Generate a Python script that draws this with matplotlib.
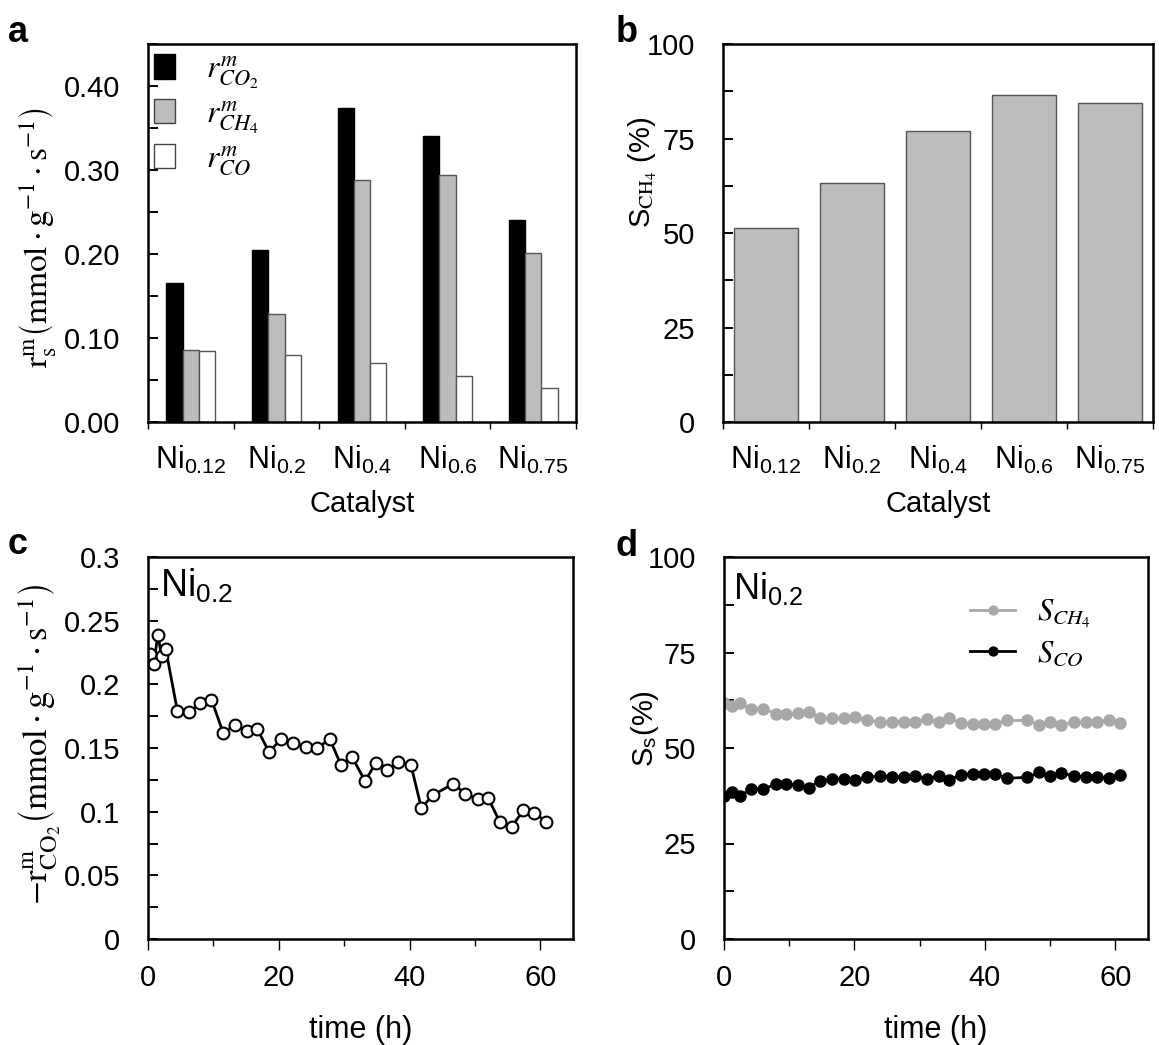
import matplotlib
matplotlib.use('Agg')
import matplotlib.pyplot as plt
from matplotlib.patches import Patch
from matplotlib.ticker import MultipleLocator, FixedLocator

plt.rcParams['font.family'] = ['Liberation Sans', 'DejaVu Sans']
plt.rcParams['mathtext.fontset'] = 'stix'

# panel a / b data
catalysts = [r'$\mathregular{Ni_{0.12}}$', r'$\mathregular{Ni_{0.2}}$', r'$\mathregular{Ni_{0.4}}$',
             r'$\mathregular{Ni_{0.6}}$', r'$\mathregular{Ni_{0.75}}$']
rate_co2 = [0.165, 0.205, 0.374, 0.340, 0.240]
rate_ch4 = [0.086, 0.129, 0.288, 0.294, 0.201]
rate_co = [0.084, 0.080, 0.070, 0.055, 0.041]
sel_ch4 = [51.2, 63.2, 76.9, 86.6, 84.4]

# panel c: CO2 consumption rate vs time on Ni0.2
time_c = [0.3, 0.9, 1.5, 2.1, 2.7, 4.5, 6.2, 8.0, 9.7, 11.5, 13.3, 15.1, 16.7, 18.5,
          20.4, 22.2, 24.1, 25.9, 27.8, 29.5, 31.2, 33.2, 34.8, 36.6, 38.3, 40.2,
          41.8, 43.6, 46.7, 48.5, 50.4, 52.0, 53.8, 55.6, 57.4, 59.1, 60.9]
rate_c = [0.224, 0.216, 0.239, 0.222, 0.228, 0.179, 0.178, 0.185, 0.188, 0.162,
          0.168, 0.163, 0.165, 0.147, 0.157, 0.154, 0.151, 0.150, 0.157, 0.137,
          0.143, 0.124, 0.138, 0.133, 0.139, 0.137, 0.103, 0.113, 0.122, 0.114,
          0.110, 0.111, 0.092, 0.088, 0.101, 0.099, 0.092]

# panel d: selectivities vs time on Ni0.2
time_d = [0.0, 1.2, 2.4, 4.2, 6.0, 7.9, 9.5, 11.3, 13.0, 14.7, 16.5, 18.4, 20.1,
          21.9, 23.9, 25.7, 27.6, 29.3, 31.1, 32.9, 34.5, 36.4, 38.1, 39.9, 41.5,
          43.4, 46.5, 48.3, 50.0, 51.7, 53.7, 55.5, 57.2, 59.0, 60.7]
sel_ch4_t = [61.8, 61.1, 61.8, 60.1, 60.3, 59.0, 58.8, 59.1, 59.4, 57.9, 57.8, 57.8,
             58.1, 57.2, 56.9, 56.9, 56.9, 56.8, 57.5, 56.8, 57.8, 56.5, 56.3, 56.3,
             56.3, 57.2, 57.2, 56.1, 56.8, 55.9, 56.8, 56.8, 56.8, 57.2, 56.5]
sel_co_t = [37.5, 38.6, 37.5, 39.2, 39.2, 40.5, 40.5, 40.3, 39.6, 41.4, 41.8, 42.0,
            41.7, 42.3, 42.7, 42.5, 42.5, 42.7, 42.0, 42.7, 41.6, 43.0, 43.3, 43.2,
            43.2, 42.1, 42.3, 43.6, 42.7, 43.4, 42.7, 42.5, 42.5, 42.1, 43.0]

W, H = 1159, 1045
fig = plt.figure(figsize=(W / 100, H / 100), dpi=100)


def px_axes(left, top, right, bottom):
    return fig.add_axes([left / W, 1 - bottom / H, (right - left) / W, (bottom - top) / H])


def style(ax):
    for s in ax.spines.values():
        s.set_linewidth(1.8)
    ax.tick_params(axis='y', which='both', direction='in', length=7, width=1.4,
                   pad=20, labelsize=21)
    ax.tick_params(axis='x', which='both', direction='out', width=1.0, labelsize=21)


def bar_xaxis(ax):
    ax.set_xlim(-0.5, 4.5)
    ax.set_xticks(range(5))
    ax.set_xticklabels(catalysts, fontsize=22)
    ax.xaxis.set_minor_locator(FixedLocator([i - 0.5 for i in range(6)]))
    ax.tick_params(axis='x', which='major', length=0, pad=16)
    ax.tick_params(axis='x', which='minor', length=5)
    ax.set_xlabel('Catalyst', fontsize=21, va='center')
    ax.xaxis.set_label_coords(0.5, -0.218)


# ---- a ----
ax = px_axes(148, 44, 576, 422)
style(ax)
w = 0.19
x = list(range(5))
ax.bar([i - w for i in x], rate_co2, w, color='black', edgecolor='black', linewidth=1)
ax.bar(x, rate_ch4, w, color='#bdbdbd', edgecolor='#555555', linewidth=1)
ax.bar([i + w for i in x], rate_co, w, color='white', edgecolor='#555555', linewidth=1)
ax.set_ylim(0, 0.45)
ax.set_yticks([0, 0.1, 0.2, 0.3, 0.4])
ax.set_yticklabels(['0.00', '0.10', '0.20', '0.30', '0.40'])
ax.yaxis.set_minor_locator(MultipleLocator(0.05))
bar_xaxis(ax)
ax.set_ylabel(r'$\mathrm{r_s^m}\left(\mathrm{mmol\cdot g^{-1}\cdot s^{-1}}\right)$',
              fontsize=24, va='center')
ax.yaxis.set_label_coords(-0.255, 0.489)
handles = [Patch(facecolor='black', edgecolor='black'),
           Patch(facecolor='#bdbdbd', edgecolor='#444444'),
           Patch(facecolor='white', edgecolor='#444444')]
ax.legend(handles, [r'$r^{m}_{CO_2}$', r'$r^{m}_{CH_4}$', r'$r^{m}_{CO}$'],
          loc='upper left', bbox_to_anchor=(0.0, 0.99), frameon=False, fontsize=23,
          handlelength=0.65, handleheight=0.8, handletextpad=0.95, labelspacing=0.25,
          borderaxespad=0.1, borderpad=0.1)

# ---- b ----
ax = px_axes(723, 44, 1153, 422)
style(ax)
ax.bar(x, sel_ch4, 0.75, color='#bdbdbd', edgecolor='#555555', linewidth=1)
ax.set_ylim(0, 100)
ax.set_yticks([0, 25, 50, 75, 100])
ax.yaxis.set_minor_locator(MultipleLocator(12.5))
bar_xaxis(ax)
ax.set_ylabel(r'S$_{\mathrm{CH_4}}$ (%)', fontsize=21, va='center')
ax.yaxis.set_label_coords(-0.186, 0.66)

# ---- c ----
ax = px_axes(148, 557, 573, 939)
style(ax)
ax.plot(time_c, rate_c, '-o', color='black', lw=2, ms=8.5, mfc='white', mec='black', mew=1.5)
ax.set_xlim(0, 65)
ax.set_ylim(0, 0.3)
ax.set_xticks([0, 20, 40, 60])
ax.xaxis.set_minor_locator(MultipleLocator(10))
ax.set_yticks([0, 0.05, 0.1, 0.15, 0.2, 0.25, 0.3])
ax.set_yticklabels(['0', '0.05', '0.1', '0.15', '0.2', '0.25', '0.3'])
ax.yaxis.set_minor_locator(MultipleLocator(0.025))
ax.tick_params(axis='x', which='major', length=8, pad=10)
ax.tick_params(axis='x', which='minor', length=5)
ax.set_xlabel('time (h)', fontsize=22, va='center')
ax.xaxis.set_label_coords(0.5, -0.238)
ax.set_ylabel(r'$-\mathrm{r^m_{CO_2}}\left(\mathrm{mmol\cdot g^{-1}\cdot s^{-1}}\right)$',
              fontsize=25, va='center')
ax.yaxis.set_label_coords(-0.255, 0.51)
ax.text(0.028, 0.975, r'$\mathregular{Ni_{0.2}}$', transform=ax.transAxes,
        fontsize=27, ha='left', va='top')

# ---- d ----
ax = px_axes(724, 557, 1148, 939)
style(ax)
ax.plot(time_d, sel_ch4_t, '-o', color='#a8a8a8', lw=2, ms=8, label=r'$S_{CH_4}$')
ax.plot(time_d, sel_co_t, '-o', color='black', lw=2, ms=8, label=r'$S_{CO}$')
ax.set_xlim(0, 65)
ax.set_ylim(0, 100)
ax.set_xticks([0, 20, 40, 60])
ax.xaxis.set_minor_locator(MultipleLocator(10))
ax.set_yticks([0, 25, 50, 75, 100])
ax.yaxis.set_minor_locator(MultipleLocator(12.5))
ax.tick_params(axis='x', which='major', length=8, pad=10)
ax.tick_params(axis='x', which='minor', length=5)
ax.set_xlabel('time (h)', fontsize=22, va='center')
ax.xaxis.set_label_coords(0.5, -0.238)
ax.set_ylabel(r'S$_{\mathregular{s}}$(%)', fontsize=21, va='center')
ax.yaxis.set_label_coords(-0.186, 0.55)
ax.text(0.021, 0.965, r'$\mathregular{Ni_{0.2}}$', transform=ax.transAxes,
        fontsize=26, ha='left', va='top')
ax.legend(loc='upper right', bbox_to_anchor=(0.93, 0.965), frameon=False, fontsize=22,
          handlelength=1.5, handletextpad=0.7, labelspacing=0.3, markerscale=0.8)

# panel letters
for letter, (px, py) in zip('abcd', [(18, 32), (627, 32), (18, 545), (627, 547)]):
    fig.text(px / W, 1 - py / H, letter, fontsize=26, fontweight='bold',
             ha='center', va='center')

fig.savefig('out.png', dpi=100)
